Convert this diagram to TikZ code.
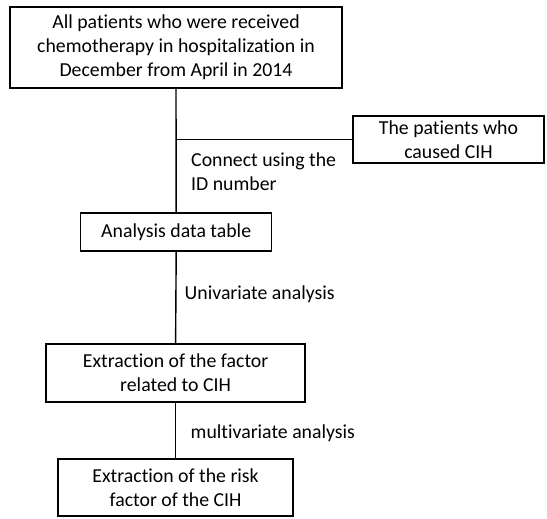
\documentclass[tikz,border=0pt]{standalone}
\usepackage{fontspec}
\setmainfont{Carlito}[Ligatures=NoCommon]
\begin{document}
\begin{tikzpicture}[x=1pt,y=-1pt,
  box/.style={draw=black,line width=1.4pt,inner sep=0pt,align=center,
    font=\fontsize{19.8}{24}\selectfont},
  lbl/.style={inner sep=0pt,anchor=west,align=left,
    font=\fontsize{19.8}{24}\selectfont},
  conn/.style={draw=black,line width=1.4pt}]
\useasboundingbox (0,0) rectangle (547,519);
\node[box,minimum width=332pt,minimum height=81pt] (top) at (176,47.5)
  {All patients who were received\\chemotherapy in hospitalization in\\December from April in 2014};
\node[box,minimum width=191pt,minimum height=47pt] (right) at (448.5,139.5)
  {The patients who\\caused CIH};
\node[box,minimum width=191pt,minimum height=38pt] (analysis) at (176.2,232)
  {Analysis data table};
\node[box,minimum width=259pt,minimum height=58pt] (factor) at (175.6,373)
  {Extraction of the factor\\related to CIH};
\node[box,minimum width=235pt,minimum height=57pt] (risk) at (175.6,487.5)
  {Extraction of the risk\\factor of the CIH};
\coordinate (j) at (top.south |- right.west);
\draw[conn] (top.south) -- (analysis.north);
\draw[conn] (j) -- (right.west);
\draw[conn] (analysis.south) -- (factor.north);
\draw[conn] (factor.south) -- (risk.north);
\node[lbl] (l1) at (191,171.5) {Connect using the\\ID number};
\node[lbl] (l2) at (184.5,294) {Univariate analysis};
\node[lbl] (l3) at (190.5,433) {multivariate analysis};
\end{tikzpicture}
\end{document}
